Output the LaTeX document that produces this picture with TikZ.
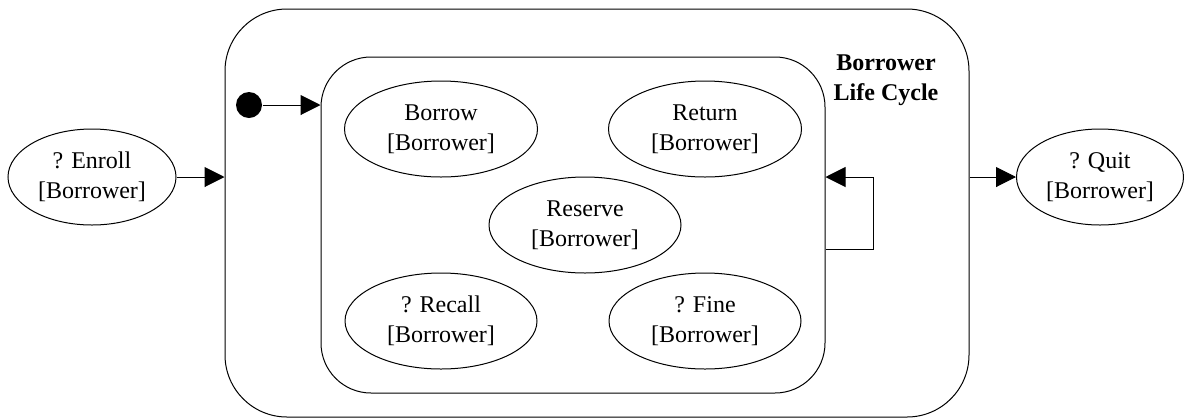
\documentclass[tikz,border=0pt]{standalone}
\usepackage{fontspec}
\setmainfont{Liberation Serif}
\usetikzlibrary{arrows.meta, positioning, shapes.geometric}

\begin{document}
\begin{tikzpicture}[
  x=0.5pt, y=-0.5pt, line width=0.5pt,
  font=\fontsize{12}{15}\selectfont,
  usecase/.style={draw, ellipse, inner sep=0pt, align=center, minimum height=48pt},
  region/.style={draw, rectangle, inner sep=0pt},
  arr/.style={-{Triangle[length=10pt, width=10pt]}},
]
\useasboundingbox (0,0) rectangle (1184,419);

\node[region, minimum width=372pt, minimum height=204pt, rounded corners=31pt] (life)  at (597,213) {};
\node[region, minimum width=252pt, minimum height=168pt, rounded corners=25pt] (cycle) at (573,225) {};
\node[font=\bfseries\fontsize{12}{15}\selectfont, align=center] (title) at (886,80) {Borrower\\Life Cycle};

\node[circle, fill=black, inner sep=0pt, minimum size=13pt] (init) at (249,105) {};

\node[usecase, minimum width=84pt]   (enroll)  at (92,177)   {? Enroll\\{[}Borrower{]}};
\node[usecase, minimum width=83.5pt] (quit)    at (1100,177) {? Quit\\{[}Borrower{]}};
\node[usecase, minimum width=96.5pt] (borrow)  at (441,129)  {Borrow\\{[}Borrower{]}};
\node[usecase, minimum width=96.5pt] (return)  at (705,129)  {Return\\{[}Borrower{]}};
\node[usecase, minimum width=96pt]   (reserve) at (585,225)  {Reserve\\{[}Borrower{]}};
\node[usecase, minimum width=96pt]   (recall)  at (441,321)  {? Recall\\{[}Borrower{]}};
\node[usecase, minimum width=96pt]   (fine)    at (705,321)  {? Fine\\{[}Borrower{]}};

\coordinate (loopA) at (873,249);
\coordinate (loopB) at (873,177);

\draw[arr] (init) -- (cycle.west |- init);
\draw[arr] (enroll) -- (life.west |- enroll);
\draw[arr] (life.east |- quit) -- (quit);
\draw[arr] (cycle.east |- loopA) -- (loopA) -- (loopB) -- (cycle.east |- loopB);

\end{tikzpicture}
\end{document}
